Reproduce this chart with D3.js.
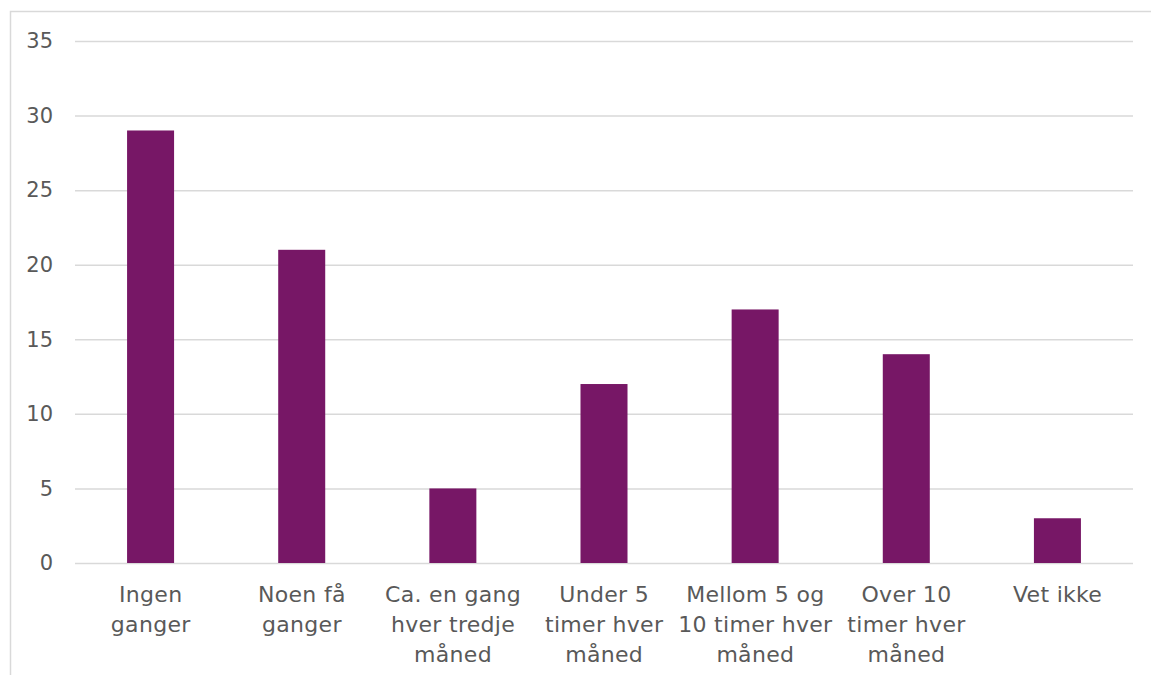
<!DOCTYPE html>
<html>
<head>
<meta charset="utf-8">
<script src="https://cdn.jsdelivr.net/npm/d3@7"></script>
<style>
  html, body { margin: 0; padding: 0; background: #fff; }
  svg { display: block; }
  text { font-family: "DejaVu Sans", sans-serif; fill: #595959; }
</style>
</head>
<body>
<svg id="chart" width="1151" height="675"></svg>
<script>
// Answer categories (each label split into its printed lines)
const categories = [
  ["Ingen", "ganger"],
  ["Noen få", "ganger"],
  ["Ca. en gang", "hver tredje", "måned"],
  ["Under 5", "timer hver", "måned"],
  ["Mellom 5 og", "10 timer hver", "måned"],
  ["Over 10", "timer hver", "måned"],
  ["Vet ikke"]
];
const values = [29, 21, 5, 12, 17, 14, 3];
const yTicks = [0, 5, 10, 15, 20, 25, 30, 35];

const svg = d3.select("#chart");
const W = 1151, H = 675;
const plot = { left: 75, right: 1133, top: 41, bottom: 563 };

// Outer frame
svg.append("rect")
  .attr("x", 10.5).attr("y", 11.5)
  .attr("width", W + 10).attr("height", H + 10)
  .attr("fill", "none").attr("stroke", "#d9d9d9").attr("stroke-width", 1.5);

const x = d3.scaleBand()
  .domain(d3.range(categories.length))
  .range([plot.left, plot.right])
  .paddingInner(0.689).paddingOuter(0.3445);

const y = d3.scaleLinear().domain([0, 35]).range([plot.bottom, plot.top]);

// Gridlines and value axis labels
const yAxis = d3.axisLeft(y).tickValues(yTicks)
  .tickSize(-(plot.right - plot.left)).tickPadding(22);
const gy = svg.append("g").attr("transform", `translate(${plot.left},0)`).call(yAxis);
gy.select(".domain").remove();
gy.selectAll(".tick line").attr("stroke", "#d9d9d9").attr("stroke-width", 1.5);
gy.selectAll(".tick text")
  .attr("font-size", 21).attr("fill", "#595959")
  .style("font-family", "'DejaVu Sans', sans-serif");

// Bars
svg.append("g").selectAll("rect")
  .data(values)
  .join("rect")
  .attr("x", (d, i) => x(i))
  .attr("width", x.bandwidth())
  .attr("y", d => y(d))
  .attr("height", d => y(0) - y(d))
  .attr("fill", "#771766");

// Category labels
const xAxis = d3.axisBottom(x).tickSize(0).tickFormat(() => "");
const gx = svg.append("g").attr("transform", `translate(0,${plot.bottom})`).call(xAxis);
gx.select(".domain").remove();
gx.selectAll(".tick").each(function (i) {
  const t = d3.select(this).append("text")
    .attr("text-anchor", "middle")
    .attr("font-size", 22)
    .attr("letter-spacing", 0.3)
    .attr("fill", "#595959");
  categories[i].forEach((line, k) => {
    t.append("tspan").attr("x", 0.15).attr("y", 39 + k * 30).text(line);
  });
});
</script>
</body>
</html>
